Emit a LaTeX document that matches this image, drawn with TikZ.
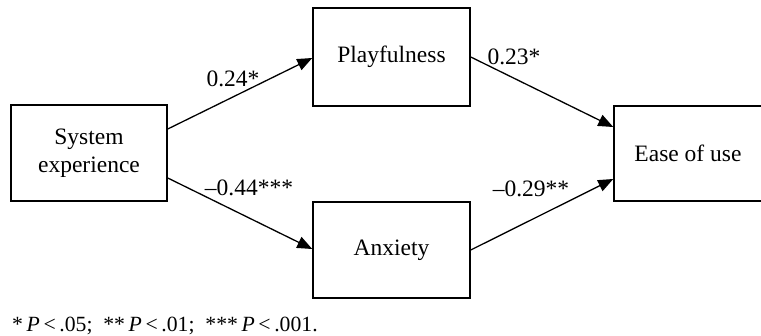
\documentclass[tikz,border=0pt]{standalone}
\usepackage{fontspec}
\setmainfont{Liberation Serif}
\usetikzlibrary{arrows.meta}
\begin{document}
\begin{tikzpicture}[x=1pt,y=-1pt,
  box/.style={draw,line width=1.5pt,rectangle,inner sep=0pt,align=center,
    font=\fontsize{23.5}{28}\selectfont},
  link/.style={line width=1.3pt,-{Triangle[length=15pt,width=12pt]}},
  lbl/.style={font=\fontsize{23.5}{28}\selectfont,inner sep=0pt}]
\useasboundingbox (0,0) rectangle (761,336);
\node[box,minimum width=156pt,minimum height=96pt] (se) at (89,153) {System\\experience};
\node[box,minimum width=157pt,minimum height=98pt] (pl) at (391.5,57) {Playfulness};
\node[box,minimum width=157pt,minimum height=96pt] (ax) at (391.5,250) {Anxiety};
\node[box,minimum width=148pt,minimum height=95pt] (eu) at (688,153.5) {Ease of use};
\draw[link] ([yshift=24pt]se.east) -- ([yshift=-1pt]pl.west);
\draw[link] ([yshift=-25pt]se.east) -- ([yshift=1pt]ax.west);
\draw[link] (pl.east) -- ([yshift=26.5pt]eu.west);
\draw[link] (ax.east) -- ([yshift=-25.5pt]eu.west);
\node[lbl] (l1) at (233,79) {0.24*};
\node[lbl] (l2) at (249,188) {\textendash0.44***};
\node[lbl] (l3) at (514,57) {0.23*};
\node[lbl] (l4) at (531,189) {\textendash0.29**};
\node[anchor=west,inner sep=0pt,font=\fontsize{21.7}{24}\selectfont] (fn) at (12,326)
  {*\,\textit{P}\,<\,.05;\ \ **\,\textit{P}\,<\,.01;\ \ ***\,\textit{P}\,<\,.001.};
\end{tikzpicture}
\end{document}
